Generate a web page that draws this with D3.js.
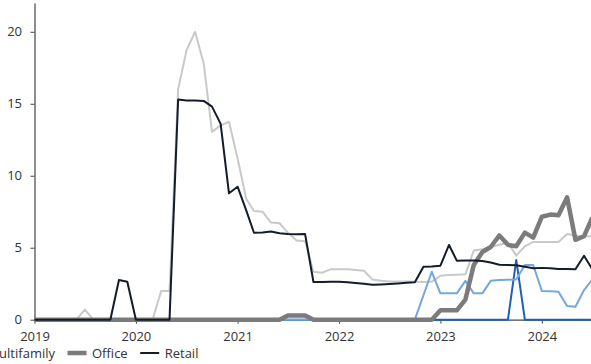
<!DOCTYPE html>
<html>
<head>
<meta charset="utf-8">
<script src="https://cdn.jsdelivr.net/npm/d3@7"></script>
<style>
  html, body { margin: 0; padding: 0; background: #fff; }
  svg { display: block; font-family: "Open Sans", sans-serif; }
</style>
</head>
<body>
<svg id="chart" width="591" height="364"></svg>
<script>
// Monthly data starting January 2019
const startYear = 2019;
const yTicks = [0, 5, 10, 15, 20];
const xTickYears = [2019, 2020, 2021, 2022, 2023, 2024];

const hotel = [0,0,0,0,0,0,0.7,0,0,0,0,0, 0,0,0,2.0,2.0,16.0,18.7,20.0,17.8,13.05,13.5,13.75,
  11.2,8.4,7.55,7.5,6.75,6.7,6.05,5.5,5.45,3.33,3.26,3.5,
  3.5,3.5,3.45,3.4,2.8,2.7,2.66,2.66,2.66,2.64,2.62,2.65,
  3.05,3.1,3.12,3.15,4.8,4.9,5.05,5.2,5.35,4.45,5.1,5.4,
  5.4,5.4,5.4,5.95,5.85,5.8,5.8];
const industrial = [0,0,0,0,0,0,0,0,0,0,0,0, 0,0,0,0,0,0,0,0,0,0,0,0,
  0,0,0,0,0,0,0,0,0,0,0,0, 0,0,0,0,0,0,0,0,0,0,0,0,
  0,0,0,0,0,0,0,0,0,4.15,0,0, 0,0,0,0,0,0,0];
const multifamily = [0,0,0,0,0,0,0,0,0,0,0,0, 0,0,0,0,0,0,0,0,0,0,0,0,
  0,0,0,0,0,0,0,0,0,0,0,0, 0,0,0,0,0,0,0,0,0,0,1.7,3.33,
  1.83,1.83,1.83,2.7,1.83,1.83,2.7,2.75,2.78,2.8,3.8,3.8,
  2.0,1.97,1.94,0.95,0.9,2.06,2.8];
const office = [0,0,0,0,0,0,0,0,0,0,0,0, 0,0,0,0,0,0,0,0,0,0,0,0,
  0,0,0,0,0,0,0.3,0.3,0.3,0,0,0, 0,0,0,0,0,0,0,0,0,0,0,0,
  0.65,0.65,0.65,1.4,3.8,4.7,5.05,5.85,5.2,5.1,6.05,5.7,
  7.15,7.3,7.25,8.5,5.55,5.8,7.1];
const retail = [0,0,0,0,0,0,0,0,0,0,2.76,2.64, 0,0,0,0,0,15.3,15.22,15.22,15.2,14.8,13.6,8.78,
  9.24,7.6,6.04,6.06,6.12,6.0,5.96,5.94,5.95,2.62,2.62,2.63,
  2.64,2.6,2.55,2.5,2.43,2.45,2.48,2.52,2.57,2.6,3.68,3.7,
  3.75,5.19,4.1,4.12,4.12,4.08,3.97,3.82,3.8,3.78,3.68,3.57,
  3.6,3.57,3.52,3.52,3.5,4.44,3.5];

const seriesNames = ["Hotel", "Industrial", "Multifamily", "Office", "Retail"];
const seriesValues = [hotel, industrial, multifamily, office, retail];
const seriesColors = ["#c9c9c9", "#1f5fb4", "#74a7dc", "#7b7b7b", "#141c2a"];
const seriesWidths = [2, 2, 2, 4.5, 2];
const legendNames = ["Multifamily", "Office", "Retail"];

const svg = d3.select("#chart");
const x0 = 34.5, y0 = 319.7, yTop = 3;

const x = d3.scaleUtc()
  .domain([new Date(Date.UTC(2019,0,1)), new Date(Date.UTC(2025,0,1))])
  .range([x0, x0 + 6 * 101.5]);
const y = d3.scaleLinear().domain([0, 22]).range([y0, yTop]);

const dateOf = i => new Date(Date.UTC(startYear, i, 1));
const axisColor = "#444";

// X axis
const gx = svg.append("g").attr("transform", `translate(0,${y0})`)
  .call(d3.axisBottom(x)
    .tickValues(xTickYears.map(yr => new Date(Date.UTC(yr,0,1))))
    .tickFormat(d3.utcFormat("%Y"))
    .tickSize(4).tickSizeOuter(0).tickPadding(8.5));
gx.select(".domain").attr("stroke", axisColor).attr("stroke-width", 1.2);
gx.selectAll(".tick line").attr("stroke", axisColor);
gx.selectAll(".tick text").attr("fill", "#333").style("font-size", "13px")
  .style("font-family", "'Open Sans', sans-serif");

// Y axis
const gy = svg.append("g").attr("transform", `translate(${x0},0)`)
  .call(d3.axisLeft(y).tickValues(yTicks).tickSize(4).tickSizeOuter(0).tickPadding(8.5));
gy.select(".domain").attr("stroke", axisColor).attr("stroke-width", 1.2);
gy.selectAll(".tick line").attr("stroke", axisColor);
gy.selectAll(".tick text").attr("fill", "#333").style("font-size", "13px")
  .style("font-family", "'Open Sans', sans-serif");

// Lines
const line = d3.line().x((d, i) => x(dateOf(i))).y(d => y(d));
seriesValues.forEach((vals, k) => {
  svg.append("path")
    .datum(vals)
    .attr("fill", "none")
    .attr("stroke", seriesColors[k])
    .attr("stroke-width", seriesWidths[k])
    .attr("stroke-linejoin", "round")
    .attr("d", line);
});

// Legend (partly cut on the left as in reference)
const legend = svg.append("g");
const legendY = 357.5, swatchLen = 19, swatchGap = 5.5, itemGap = 12.5;
const fontStyle = s => s.style("font-size", "13px").style("font-family", "'Open Sans', sans-serif").attr("fill", "#333");
const tmp = svg.append("text").call(fontStyle);
const widths = legendNames.map(n => { tmp.text(n); return tmp.node().getComputedTextLength(); });
tmp.remove();
let cx = 55 - widths[0] - swatchGap - swatchLen;
legendNames.forEach((n, j) => {
  const k = seriesNames.indexOf(n);
  legend.append("line")
    .attr("x1", cx).attr("x2", cx + swatchLen)
    .attr("y1", legendY - 4.5).attr("y2", legendY - 4.5)
    .attr("stroke", seriesColors[k]).attr("stroke-width", seriesWidths[k]);
  legend.append("text").attr("x", cx + swatchLen + swatchGap).attr("y", legendY).text(n).call(fontStyle);
  cx += swatchLen + swatchGap + widths[j] + itemGap;
});
</script>
</body>
</html>
